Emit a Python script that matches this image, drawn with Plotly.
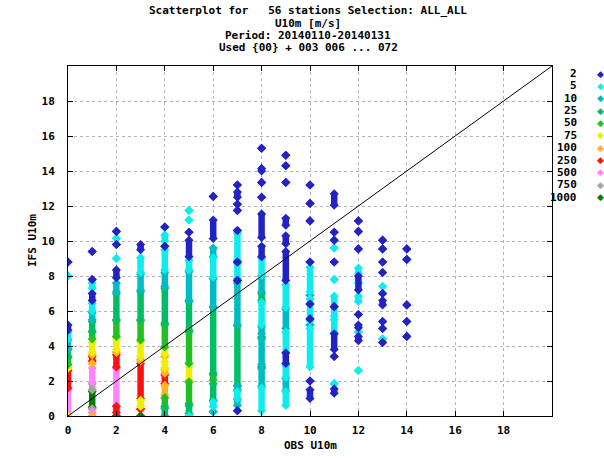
import plotly.graph_objects as go

# density classes (points per location) and their colours
classes = ["2", "5", "10", "25", "50", "75", "100", "250", "500", "750", "1000"]
class_colors = ["#2323c3", "#10ecec", "#00bcc2", "#00be66", "#22c022", "#eeee00",
                "#ffb424", "#ff1010", "#ff84ff", "#a4a4a4", "#047c04"]

# runs of IFS values per OBS bin: (obs, ifs_low, ifs_high)
runs_2 = [
    (0, 8.8, 8.8), (0, 4.9, 5.2),
    (1, 9.4, 9.4), (1, 7.8, 7.8), (1, 6.6, 7.0),
    (2, 10.55, 10.55), (2, 9.8, 9.8), (2, 7.9, 8.35),
    (3, 9.5, 9.8),
    (4, 10.8, 10.8), (4, 9.7, 9.7),
    (5, 10.5, 10.5), (5, 9.1, 10.05),
    (6, 12.55, 12.55), (6, 10.15, 11.2),
    (7, 13.2, 13.2), (7, 12.5, 12.8), (7, 12.1, 12.1), (7, 11.75, 11.75),
    (7, 10.6, 10.6), (7, 8.8, 8.8), (7, 7.75, 7.75), (7, 0.3, 0.3),
    (8, 15.3, 15.3), (8, 14.0, 14.15), (8, 13.35, 13.35), (8, 12.5, 12.5),
    (8, 10.2, 11.55), (8, 9.1, 9.7),
    (9, 14.9, 14.9), (9, 14.3, 14.3), (9, 13.35, 13.35), (9, 10.9, 11.3),
    (9, 9.85, 10.3), (9, 7.75, 9.4), (9, 3.0, 3.6),
    (10, 13.2, 13.2), (10, 12.15, 12.15), (10, 11.15, 11.15), (10, 8.8, 8.8),
    (10, 6.4, 6.4), (10, 5.55, 5.55), (10, 2.0, 2.0), (10, 1.0, 1.5),
    (11, 12.05, 12.7), (11, 10.5, 10.5), (11, 10.05, 10.05), (11, 8.8, 8.8),
    (11, 6.25, 6.25), (11, 3.8, 4.7), (11, 3.4, 3.4), (11, 1.3, 1.55),
    (12, 11.15, 11.15), (12, 10.55, 10.55), (12, 9.55, 9.55), (12, 7.2, 8.0),
    (12, 5.8, 5.8), (12, 5.05, 5.2), (12, 4.3, 4.55),
    (13, 10.05, 10.05), (13, 9.55, 9.55), (13, 8.8, 8.8), (13, 8.2, 8.2),
    (13, 7.0, 7.0), (13, 6.35, 6.6), (13, 5.4, 5.4), (13, 5.0, 5.0), (13, 4.2, 4.2),
    (14, 9.55, 9.55), (14, 8.95, 8.95), (14, 6.35, 6.35), (14, 5.4, 5.4), (14, 4.55, 4.55),
]
runs_5 = [
    (0, 8.0, 8.0), (0, 4.4, 4.75),
    (1, 7.3, 7.6), (1, 6.0, 6.45),
    (2, 10.15, 10.15), (2, 9.0, 9.0),
    (3, 8.2, 9.05),
    (4, 10.0, 10.35), (4, 8.35, 9.5),
    (5, 11.75, 11.75), (5, 11.2, 11.2), (5, 8.35, 8.9), (5, 0.0, 0.0),
    (6, 7.95, 9.05), (6, 0.55, 0.8),
    (7, 8.9, 10.45), (7, 7.85, 8.7), (7, 1.0, 1.4),
    (8, 8.05, 9.05), (8, 5.2, 6.5), (8, 0.3, 1.6),
    (9, 6.2, 7.5), (9, 3.65, 4.8), (9, 2.2, 2.9), (9, 0.6, 1.4),
    (10, 7.1, 8.5), (10, 5.45, 6.7), (10, 2.8, 5.0),
    (11, 9.6, 9.6), (11, 7.8, 7.8), (11, 5.7, 6.85), (11, 4.75, 5.5), (11, 1.85, 1.85),
    (12, 8.15, 8.45), (12, 7.6, 7.6), (12, 6.55, 6.85), (12, 4.8, 4.8), (12, 2.6, 2.6),
    (13, 7.4, 7.4), (13, 4.4, 4.4),
]
runs_10 = [
    (0, 3.85, 4.35),
    (1, 5.5, 5.9),
    (2, 7.1, 7.6),
    (3, 7.2, 8.1),
    (4, 7.4, 8.2),
    (5, 6.6, 8.25),
    (6, 9.1, 9.6), (6, 6.25, 7.85), (6, 0.25, 0.25),
    (7, 5.2, 7.6), (7, 1.5, 1.7), (7, 0.6, 0.95),
    (8, 7.1, 8.0), (8, 4.7, 5.1), (8, 2.95, 4.4), (8, 1.7, 2.7),
    (9, 5.0, 6.1), (9, 1.45, 2.15),
    (10, 6.9, 6.9), (10, 5.2, 5.2),
]
runs_25 = [
    (0, 3.4, 3.8),
    (1, 4.85, 5.4),
    (2, 5.5, 7.0),
    (3, 5.5, 7.1),
    (4, 5.3, 7.3), (4, 0.0, 0.45),
    (5, 4.9, 6.55), (5, 0.15, 0.6),
    (6, 2.45, 6.2), (6, 0.9, 1.85),
    (7, 1.75, 5.15),
    (8, 6.6, 7.0), (8, 4.5, 4.5), (8, 2.8, 2.8),
]
runs_50 = [
    (0, 2.95, 3.35),
    (1, 4.4, 4.8),
    (2, 4.55, 5.45),
    (3, 4.35, 5.45),
    (4, 3.95, 5.2), (4, 0.55, 1.05),
    (5, 3.0, 4.8), (5, 0.7, 1.95),
    (6, 2.05, 2.35),
]
runs_75 = [
    (0, 2.75, 2.75), (0, 0.0, 0.0),
    (1, 3.65, 4.2),
    (2, 3.8, 4.45),
    (3, 3.4, 4.25), (3, 0.55, 0.9),
    (4, 3.55, 3.9), (4, 2.75, 3.1),
    (5, 2.05, 2.8),
]
runs_100 = [
    (1, 3.5, 3.5), (1, 3.0, 3.0), (1, 0.0, 0.0),
    (2, 3.65, 3.65),
    (3, 3.15, 3.25),
    (4, 3.4, 3.4), (4, 2.45, 2.65), (4, 1.2, 1.75),
]
runs_250 = [
    (0, 1.6, 2.6),
    (1, 3.15, 3.4),
    (2, 2.8, 3.5), (2, 0.2, 0.55),
    (3, 1.0, 3.0), (3, 0.4, 0.4),
    (4, 1.85, 2.35),
]
runs_500 = [
    (0, 0.1, 1.5),
    (1, 1.95, 2.75), (1, 0.2, 0.2),
    (2, 0.6, 2.7),
]
runs_750 = [
    (1, 1.5, 1.85), (1, 0.4, 0.4),
]
runs_1000 = [
    (1, 0.5, 1.4),
    (2, 0.0, 0.0),
    (3, 0.0, 0.0),
]

diag_x = [0, 20]
diag_y = [0, 20]
tick_vals = [0, 2, 4, 6, 8, 10, 12, 14, 16, 18]

title_lines = [
    "Scatterplot for\u00a0\u00a0\u00a056 stations Selection: ALL_ALL",
    "U10m [m/s]",
    "Period: 20140110-20140131",
    "Used {00} + 003 006 ... 072",
]

FONT = dict(family="DejaVu Sans Mono", size=11, color="black", weight="bold")

# plot area in pixels: x 68..552, y 66..416
def px_x(px):
    return (px - 68) / 484


def px_y(py):
    return (416 - py) / 350


all_runs = [runs_2, runs_5, runs_10, runs_25, runs_50, runs_75,
            runs_100, runs_250, runs_500, runs_750, runs_1000]

fig = go.Figure()

# densest classes first, sparse blue on top
for name, color, runs in reversed(list(zip(classes, class_colors, all_runs))):
    xs, ys = [], []
    for obs, lo, hi in runs:
        xs += [obs, obs, None]
        ys += [lo, hi, None]
    fig.add_trace(go.Scatter(
        x=xs, y=ys, mode="lines+markers", name=name,
        line=dict(color=color, width=6.5),
        marker=dict(symbol="diamond", size=7, color=color),
        showlegend=False, hoverinfo="skip"))

fig.add_trace(go.Scatter(x=diag_x, y=diag_y, mode="lines",
                         line=dict(color="black", width=1),
                         showlegend=False, hoverinfo="skip"))

axis = dict(range=[0, 20], tickvals=tick_vals, showgrid=True,
            gridcolor="#b4b4b4", griddash="dot", gridwidth=1,
            showline=True, linecolor="black", linewidth=1, mirror="ticks",
            ticks="inside", ticklen=5, tickcolor="black",
            zeroline=False, tickfont=FONT)

fig.update_layout(
    width=604, height=458, autosize=False,
    margin=dict(l=68, r=52, t=66, b=42, pad=0),
    plot_bgcolor="white", paper_bgcolor="white",
    xaxis=dict(axis, ticklabelstandoff=4),
    yaxis=dict(axis, ticklabelstandoff=10),
)

for i, line in enumerate(title_lines):
    fig.add_annotation(text=line, xref="paper", yref="paper",
                       x=px_x(308), y=px_y(11 + i * 12.3),
                       xanchor="center", yanchor="middle",
                       showarrow=False, font=FONT)

fig.add_annotation(text="OBS U10m", xref="paper", yref="paper",
                   x=0.5, y=px_y(446), xanchor="center", yanchor="middle",
                   showarrow=False, font=FONT)
fig.add_annotation(text="IFS U10m", xref="paper", yref="paper",
                   x=px_x(32), y=px_y(241), xanchor="center", yanchor="middle",
                   textangle=-90, showarrow=False, font=FONT)

# key on the right: label then diamond
for i, (name, color) in enumerate(zip(classes, class_colors)):
    yy = px_y(73.5 + i * 12.37)
    fig.add_annotation(text=name, xref="paper", yref="paper",
                       x=px_x(579), y=yy, xanchor="right", yanchor="middle",
                       showarrow=False, font=FONT)
    fig.add_annotation(text="\u25c6", xref="paper", yref="paper",
                       x=px_x(600), y=yy, xanchor="center", yanchor="middle",
                       showarrow=False,
                       font=dict(family="DejaVu Sans", size=9, color=color))

fig.write_html("out.html", config={"displayModeBar": False},
               post_script="document.body.style.margin='0';")
